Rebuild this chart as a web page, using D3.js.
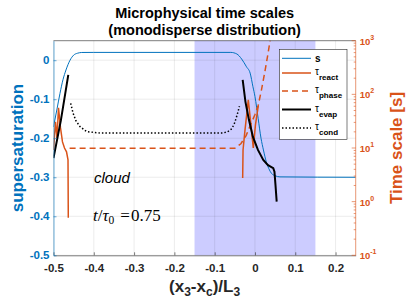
<!DOCTYPE html>
<html>
<head>
<meta charset="utf-8">
<script src="https://cdn.jsdelivr.net/npm/d3@7"></script>
<style>
  body { margin: 0; background: #fff; }
  svg { display: block; font-family: "Liberation Sans", Arial, sans-serif; }
</style>
</head>
<body>
<svg id="chart" width="407" height="305"></svg>
<script>
// values
const xTicks = [-0.5, -0.4, -0.3, -0.2, -0.1, 0, 0.1, 0.2];
const xTickLabels = ['-0.5', '-0.4', '-0.3', '-0.2', '-0.1', '0', '0.1', '0.2'];
const sTicks = [-0.5, -0.4, -0.3, -0.2, -0.1, 0];
const sTickLabels = ['-0.5', '-0.4', '-0.3', '-0.2', '-0.1', '0'];
const tauTicks = [0.1, 1, 10, 100, 1000];
const tauTickExp = ['-1', '0', '1', '2', '3'];
const cloudBand = [-0.15, 0.15];

// supersaturation (left axis)
const sX = [-0.5, -0.4913, -0.4839, -0.4765, -0.469, -0.459, -0.45, -0.44, -0.43, -0.4,
  -0.06, -0.045, -0.033, -0.021, -0.012, -0.005, 0, 0.008, 0.015, 0.021, 0.028, 0.034,
  0.041, 0.05, 0.062, 0.25];
const sY = [-0.171, -0.125, -0.085, -0.05, -0.025, 0.0, 0.013, 0.018, 0.0198, 0.02,
  0.02, 0.016, 0.003, -0.017, -0.033, -0.068, -0.093, -0.15, -0.2, -0.23, -0.26, -0.277,
  -0.29, -0.296, -0.299, -0.3];

// time scales [s] (right axis, log)
const reactLeftX = [-0.5, -0.495, -0.4913, -0.4876, -0.4826, -0.4777, -0.4727, -0.4677, -0.464, -0.4633];
const reactLeftY = [9.2, 30.7, 15.4, 56, 23.7, 13, 10, 8.5, 6.0, 0.5];
const reactRightX = [-0.0305, -0.0296, -0.0247, -0.0166, -0.01, -0.0042, 0.0012, 0.0082];
const reactRightY = [2.77, 9.2, 21.8, 79, 27, 10, 27, 61];

const phaseX = [-0.46, -0.05, -0.035, -0.022, -0.01, 0.0, 0.008, 0.016, 0.024, 0.031, 0.038];
const phaseY = [9.9, 9.9, 12, 17, 28, 42, 62, 120, 250, 500, 1050];

const evapLeftX = [-0.5, -0.4816, -0.4633];
const evapLeftY = [6.5, 33, 230];
const evapRightX = [-0.0305, -0.0236, -0.015, -0.005, 0.0074, 0.0206, 0.0323, 0.0454, 0.0484, 0.0509, 0.0539];
const evapRightY = [186, 72.5, 33.5, 16.1, 9.2, 6.0, 4.8, 4.2, 3.6, 2.05, 1.0];

const condX = [-0.4573, -0.4516, -0.4442, -0.4342, -0.4176, -0.3846, -0.08, -0.068, -0.057, -0.05, -0.044, -0.0385];
const condY = [68, 45, 32, 25, 20.2, 19, 19, 20, 23, 30, 42, 60];

const legendNames = ['s', 'react', 'phase', 'evap', 'cond'];

const blue = '#0072BD';
const orange = '#D95319';
const axisGray = '#262626';

const svg = d3.select('#chart');
const pLeft = 53.5, pRight = 355.7, pTop = 40.7, pBottom = 255.3;

let x = d3.scaleLinear().domain([-0.5, 0.25]).range([pLeft, pRight]);
let yL = d3.scaleLinear().domain([-0.5, 0.05]).range([pBottom, pTop]);
let yR = d3.scaleLog().domain([0.1, 1000]).range([pBottom, pTop]);

svg.append('defs').append('clipPath').attr('id', 'plot')
  .append('rect').attr('x', pLeft).attr('y', pTop)
  .attr('width', pRight - pLeft).attr('height', pBottom - pTop);

// cloud band
svg.append('rect')
  .attr('x', x(cloudBand[0])).attr('y', pTop)
  .attr('width', x(cloudBand[1]) - x(cloudBand[0])).attr('height', pBottom - pTop)
  .attr('fill', 'rgb(204,204,255)');

// grid
let grid = svg.append('g').attr('stroke', 'rgba(38,38,38,0.15)').attr('stroke-width', 0.6);
xTicks.forEach((t) => {
  grid.append('line').attr('x1', x(t)).attr('x2', x(t)).attr('y1', pTop).attr('y2', pBottom);
});
sTicks.forEach((t) => {
  grid.append('line').attr('x1', pLeft).attr('x2', pRight).attr('y1', yL(t)).attr('y2', yL(t));
});

// curves
let plot = svg.append('g').attr('clip-path', 'url(#plot)');
let zipPts = (xs, ys) => xs.map((v, i) => [v, ys[i]]);
let lineS = d3.line().x((d) => x(d[0])).y((d) => yL(d[1])).curve(d3.curveMonotoneX);
let lineT = d3.line().x((d) => x(d[0])).y((d) => yR(d[1]));

plot.append('path').attr('d', lineS(zipPts(sX, sY)))
  .attr('fill', 'none').attr('stroke', blue).attr('stroke-width', 1);
[[reactLeftX, reactLeftY], [reactRightX, reactRightY]].forEach(([xs, ys]) => {
  plot.append('path').attr('d', lineT(zipPts(xs, ys)))
    .attr('fill', 'none').attr('stroke', orange).attr('stroke-width', 1.5);
});
plot.append('path').attr('d', lineT(zipPts(phaseX, phaseY)))
  .attr('fill', 'none').attr('stroke', orange).attr('stroke-width', 1.5)
  .attr('stroke-dasharray', '6,4');
[[evapLeftX, evapLeftY], [evapRightX, evapRightY]].forEach(([xs, ys]) => {
  plot.append('path').attr('d', lineT(zipPts(xs, ys)))
    .attr('fill', 'none').attr('stroke', '#000').attr('stroke-width', 2);
});
plot.append('path').attr('d', lineT(zipPts(condX, condY)))
  .attr('fill', 'none').attr('stroke', '#000').attr('stroke-width', 1.5)
  .attr('stroke-dasharray', '1.5,2');

// axes
svg.append('line').attr('x1', pLeft).attr('x2', pRight).attr('y1', pTop).attr('y2', pTop)
  .attr('stroke', axisGray).attr('stroke-width', 0.6);

let gx = svg.append('g').attr('transform', `translate(0,${pBottom})`)
  .call(d3.axisBottom(x).tickValues(xTicks).tickFormat((d, i) => xTickLabels[i])
    .tickSizeInner(-3).tickSizeOuter(0).tickPadding(9));
gx.select('.domain').attr('stroke', axisGray).attr('stroke-width', 0.6);
gx.selectAll('.tick line').attr('stroke', axisGray).attr('stroke-width', 0.6);
gx.selectAll('text').attr('fill', axisGray).attr('font-size', 11.5).attr('font-weight', 'bold')
  .attr('font-family', '"Liberation Sans", Arial, sans-serif');

let gl = svg.append('g').attr('transform', `translate(${pLeft},0)`)
  .call(d3.axisLeft(yL).tickValues(sTicks).tickFormat((d, i) => sTickLabels[i])
    .tickSizeInner(-3).tickSizeOuter(0).tickPadding(4));
gl.select('.domain').attr('stroke', blue).attr('stroke-width', 0.6);
gl.selectAll('.tick line').attr('stroke', blue).attr('stroke-width', 0.6);
gl.selectAll('text').attr('fill', blue).attr('font-size', 11.5).attr('font-weight', 'bold')
  .attr('font-family', '"Liberation Sans", Arial, sans-serif');

// right log axis with minor ticks
let gr = svg.append('g');
gr.append('line').attr('x1', pRight).attr('x2', pRight).attr('y1', pTop).attr('y2', pBottom)
  .attr('stroke', orange).attr('stroke-width', 0.6);
yR.ticks().forEach((t) => {
  let major = tauTicks.some((m) => Math.abs(m - t) < 1e-9);
  gr.append('line').attr('x1', pRight).attr('x2', pRight - (major ? 4 : 2))
    .attr('y1', yR(t)).attr('y2', yR(t))
    .attr('stroke', orange).attr('stroke-width', 0.6);
});
tauTicks.forEach((t, i) => {
  let lab = gr.append('text').attr('x', pRight + 4).attr('y', yR(t) + 4)
    .attr('fill', orange).attr('font-size', 9.5).attr('font-weight', 'bold');
  lab.append('tspan').text('10');
  lab.append('tspan').attr('dy', -5).attr('font-size', 7).text(tauTickExp[i]);
});

// legend
let lg = svg.append('g');
lg.append('rect').attr('x', 279.3).attr('y', 49.3).attr('width', 67.7).attr('height', 90)
  .attr('fill', '#fff').attr('stroke', axisGray).attr('stroke-width', 0.6);
const legendRows = [58.3, 73, 91, 109.5, 128];
const legendStyle = [
  { c: blue, w: 1, dash: null },
  { c: orange, w: 1.5, dash: null },
  { c: orange, w: 1.5, dash: '6,4' },
  { c: '#000', w: 2, dash: null },
  { c: '#000', w: 1.5, dash: '1.5,2' }
];
legendNames.forEach((name, i) => {
  let yy = legendRows[i];
  lg.append('line').attr('x1', 282).attr('x2', 311).attr('y1', yy).attr('y2', yy)
    .attr('stroke', legendStyle[i].c).attr('stroke-width', legendStyle[i].w)
    .attr('stroke-dasharray', legendStyle[i].dash);
  if (i === 0) {
    lg.append('text').attr('x', 315).attr('y', yy + 3.5).attr('font-size', 10)
      .attr('font-weight', 'bold').text(name);
  } else {
    let t = lg.append('text').attr('x', 315).attr('y', yy + 2).attr('font-size', 10);
    t.append('tspan').text('τ');
    t.append('tspan').attr('dy', 5).attr('font-size', 8).attr('font-weight', 'bold').text(name);
  }
});

// titles and labels
svg.append('text').attr('x', 204.6).attr('y', 17.5).attr('text-anchor', 'middle')
  .attr('font-size', 14.5).attr('font-weight', 'bold').text('Microphysical time scales');
svg.append('text').attr('x', 204.6).attr('y', 34.5).attr('text-anchor', 'middle')
  .attr('font-size', 14.5).attr('font-weight', 'bold').text('(monodisperse distribution)');

svg.append('text').attr('transform', 'translate(23,148) rotate(-90)')
  .attr('text-anchor', 'middle').attr('font-size', 17).attr('font-weight', 'bold')
  .attr('fill', blue).text('supersaturation');
svg.append('text').attr('transform', 'translate(402,148) rotate(-90)')
  .attr('text-anchor', 'middle').attr('font-size', 17).attr('font-weight', 'bold')
  .attr('fill', orange).text('Time scale [s]');

let xl = svg.append('text').attr('x', 204.6).attr('y', 291.5).attr('text-anchor', 'middle')
  .attr('font-size', 17).attr('font-weight', 'bold').attr('fill', axisGray);
xl.append('tspan').text('(x');
xl.append('tspan').attr('dy', 4).attr('font-size', 12).text('3');
xl.append('tspan').attr('dy', -4).text('-x');
xl.append('tspan').attr('dy', 4).attr('font-size', 12).text('c');
xl.append('tspan').attr('dy', -4).text(')/L');
xl.append('tspan').attr('dy', 4).attr('font-size', 12).text('3');

svg.append('text').attr('x', 94).attr('y', 183.3).attr('font-size', 15)
  .attr('font-style', 'italic').text('cloud');

let tt = svg.append('text').attr('x', 93).attr('y', 220.5)
  .attr('font-family', '"Liberation Serif", "Times New Roman", serif').attr('font-size', 17);
tt.append('tspan').attr('font-style', 'italic').text('t');
tt.append('tspan').text('/');
tt.append('tspan').attr('font-style', 'italic').text('τ');
tt.append('tspan').attr('dy', 3).attr('font-size', 11.5).text('0');
tt.append('tspan').attr('dy', -3).attr('dx', 6).text('=');
tt.append('tspan').attr('dx', 1).text('0.75');
</script>
</body>
</html>
